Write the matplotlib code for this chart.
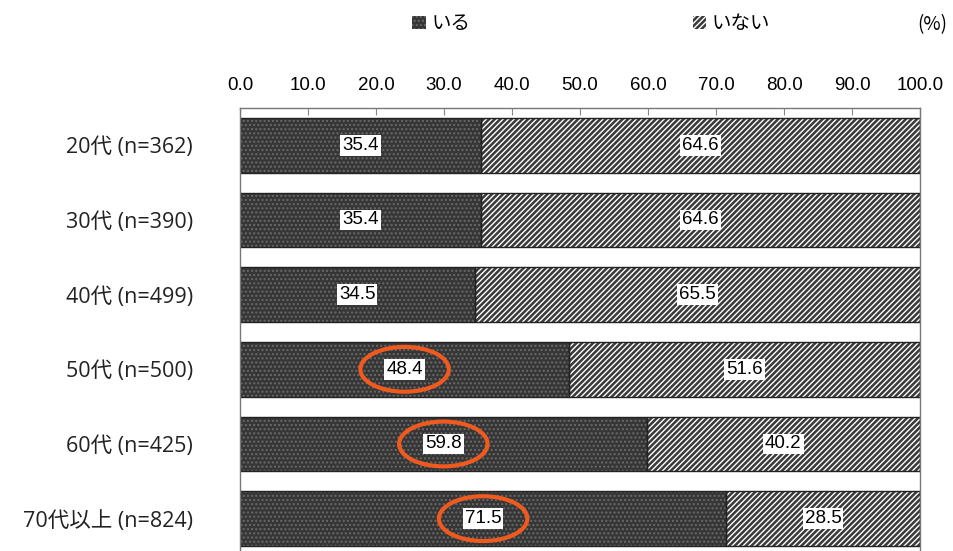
import matplotlib.pyplot as plt
from matplotlib.patches import Patch, Ellipse

plt.rcParams['font.family'] = ['Noto Sans CJK JP', 'DejaVu Sans']
plt.rcParams['hatch.linewidth'] = 1.0

groups = ['20代 (n=362)', '30代 (n=390)', '40代 (n=499)',
          '50代 (n=500)', '60代 (n=425)', '70代以上 (n=824)']
iru = [35.4, 35.4, 34.5, 48.4, 59.8, 71.5]
inai = [64.6, 64.6, 65.5, 51.6, 40.2, 28.5]
highlight = [False, False, False, True, True, True]
xticks = [0, 10, 20, 30, 40, 50, 60, 70, 80, 90, 100]

fig = plt.figure(figsize=(9.54, 5.51), dpi=100)
ax = fig.add_axes([0.2516, -0.009, 0.7128, 0.813])

y = list(range(len(groups)))
h = 0.735
num_font = 'Liberation Sans'

# いる: dark dotted fill
ax.barh(y, iru, height=h, color='#363636', edgecolor='#6a6a6a',
        hatch='....', linewidth=0)
# いない: dense diagonal stripes
ax.barh(y, inai, left=iru, height=h, color='#3a3a3a', edgecolor='white',
        hatch='//////', linewidth=0)
# outlines
ax.barh(y, iru, height=h, fill=False, edgecolor='#222222', linewidth=1)
ax.barh(y, inai, left=iru, height=h, fill=False, edgecolor='#222222', linewidth=1)

box = dict(boxstyle='square,pad=0.1', facecolor='white', edgecolor='none')
for i in y:
    cx1 = iru[i] / 2
    cx2 = iru[i] + inai[i] / 2
    ax.text(cx1, i, f'{iru[i]:.1f}', ha='center', va='center', fontsize=13.5,
            family=num_font, color='black', bbox=box)
    ax.text(cx2, i, f'{inai[i]:.1f}', ha='center', va='center', fontsize=13.5,
            family=num_font, color='black', bbox=box)
    if highlight[i]:
        ax.add_patch(Ellipse((cx1, i), 13.0, 0.6, fill=False,
                             edgecolor='#f05a1e', linewidth=3, zorder=5))

ax.set_xlim(0, 100)
ax.set_ylim(len(groups) - 0.5, -0.5)
ax.set_xticks(xticks)
ax.set_xticklabels([f'{v:.1f}' for v in xticks], family=num_font, fontsize=13.5)
ax.xaxis.tick_top()
ax.tick_params(axis='x', direction='in', length=5, pad=10, color='#888888')
ax.set_yticks(y)
ax.set_yticklabels(groups, fontsize=15.5, color='#222222',
                   family=['Open Sans', 'Noto Sans CJK JP'])
ax.tick_params(axis='y', length=0, pad=34)
for s in ax.spines.values():
    s.set_color('#777777')
    s.set_linewidth(1)
ax.spines['bottom'].set_visible(False)

handles = [Patch(facecolor='#363636', edgecolor='#6a6a6a', hatch='....', linewidth=0),
           Patch(facecolor='#3a3a3a', edgecolor='white', hatch='//////', linewidth=0)]
fig.legend(handles, ['いる', 'いない'], loc='center', bbox_to_anchor=(0.62, 0.957),
           ncol=2, frameon=False, fontsize=14, handlelength=0.7, handleheight=0.7,
           handletextpad=0.3, columnspacing=11.4)
fig.text(0.993, 0.956, '(%)', ha='right', va='center', fontsize=13.5)

fig.savefig('out.png', dpi=100)
